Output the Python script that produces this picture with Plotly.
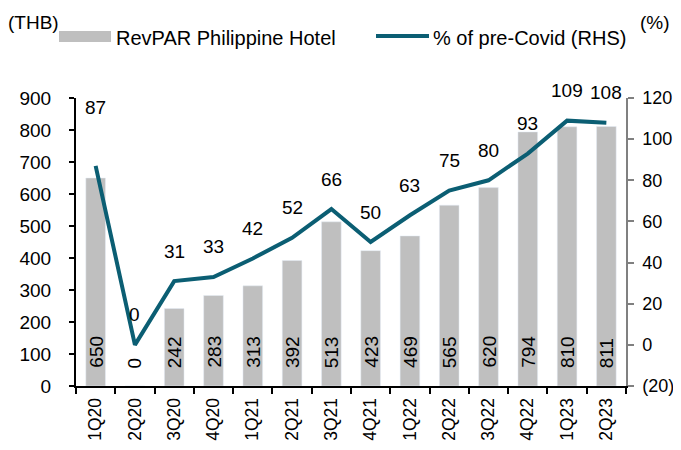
import plotly.graph_objects as go

categories = ["1Q20", "2Q20", "3Q20", "4Q20", "1Q21", "2Q21", "3Q21", "4Q21",
              "1Q22", "2Q22", "3Q22", "4Q22", "1Q23", "2Q23"]
revpar = [650, 0, 242, 283, 313, 392, 513, 423, 469, 565, 620, 794, 810, 811]
pct_pre_covid = [87, 0, 31, 33, 42, 52, 66, 50, 63, 75, 80, 93, 109, 108]
left_ticks = [0, 100, 200, 300, 400, 500, 600, 700, 800, 900]
right_ticks = [-20, 0, 20, 40, 60, 80, 100, 120]
right_tick_labels = ["(20)", "0", "20", "40", "60", "80", "100", "120"]

BAR = "#BFBFBF"
LINE = "#0B5E73"
FONT = "Liberation Sans, Arial, sans-serif"

# page body has a default 8px margin on every side; size the figure so the
# page does not overflow the 681x450 window
OFF = 8
W, H = 681 - 2 * OFF, 450 - 2 * OFF
PLOT_L, PLOT_R, PLOT_T, PLOT_B = 76, 626, 98, 386   # window pixels
ML, MR = PLOT_L - OFF, (OFF + W) - PLOT_R
MT, MB = PLOT_T - OFF, (OFF + H) - PLOT_B
PW, PH = W - ML - MR, H - MT - MB


def px(x):
    return (x - OFF - ML) / PW


def py(y):
    return (H - MB - (y - OFF)) / PH


fig = go.Figure()
fig.add_trace(go.Bar(x=categories, y=revpar, marker_color=BAR, width=0.5,
                     name="RevPAR Philippine Hotel", yaxis="y"))
fig.add_trace(go.Scatter(x=categories, y=pct_pre_covid, mode="lines",
                         line=dict(color=LINE, width=4),
                         name="% of pre-Covid (RHS)", yaxis="y2"))

annotations = []
for c, v in zip(categories, revpar):
    annotations.append(dict(x=c, y=0, xref="x", yref="y", text=str(v),
                            textangle=-90, showarrow=False, yanchor="bottom",
                            yshift=16, font=dict(family=FONT, size=19, color="#000")))
line_label_shift = [58] + [30] * (len(categories) - 1)
for c, v, s in zip(categories, pct_pre_covid, line_label_shift):
    annotations.append(dict(x=c, y=v, xref="x", yref="y2", text=str(v),
                            showarrow=False, yanchor="middle", yshift=s,
                            font=dict(family=FONT, size=19, color="#000")))
annotations.append(dict(x=px(6), y=py(22), xref="paper", yref="paper", text="(THB)",
                        showarrow=False, xanchor="left", yanchor="middle",
                        font=dict(family=FONT, size=19, color="#000")))
annotations.append(dict(x=px(672), y=py(22), xref="paper", yref="paper", text="(%)",
                        showarrow=False, xanchor="right", yanchor="middle",
                        font=dict(family=FONT, size=19, color="#000")))
annotations.append(dict(x=px(114), y=py(38), xref="paper", yref="paper",
                        text="RevPAR Philippine Hotel", showarrow=False,
                        xanchor="left", yanchor="middle",
                        font=dict(family=FONT, size=20, color="#000")))
annotations.append(dict(x=px(431), y=py(38), xref="paper", yref="paper",
                        text="% of pre-Covid (RHS)", showarrow=False,
                        xanchor="left", yanchor="middle",
                        font=dict(family=FONT, size=20, color="#000")))

shapes = [
    dict(type="rect", xref="paper", yref="paper", x0=px(59), x1=px(111),
         y0=py(42), y1=py(31), fillcolor=BAR, line=dict(width=0)),
    dict(type="line", xref="paper", yref="paper", x0=px(376), x1=px(429),
         y0=py(36), y1=py(36), line=dict(color=LINE, width=4)),
]

fig.update_layout(
    width=W, height=H,
    margin=dict(l=ML, r=MR, t=MT, b=MB, autoexpand=False),
    paper_bgcolor="white", plot_bgcolor="white",
    showlegend=False,
    font=dict(family=FONT, size=19, color="#000"),
    xaxis=dict(type="category", tickangle=-90, tickson="boundaries",
               ticks="outside", ticklen=6, tickwidth=1.5, tickcolor="#000",
               showline=True, linecolor="#000", linewidth=2,
               ticklabelstandoff=3, automargin=False,
               showgrid=False, tickfont=dict(family=FONT, size=17.5, color="#000")),
    yaxis=dict(range=[0, 900], tickvals=left_ticks, ticks="outside", ticklen=5,
               tickwidth=1.5, tickcolor="#000", showline=True, linecolor="#000",
               linewidth=2, showgrid=False, zeroline=False,
               ticklabelstandoff=14, automargin=False,
               tickfont=dict(family=FONT, size=19, color="#000")),
    yaxis2=dict(range=[-20, 120], overlaying="y", side="right",
                tickvals=right_ticks, ticktext=right_tick_labels,
                ticks="outside", ticklen=6, tickwidth=1.5, tickcolor="#808080",
                showline=True, linecolor="#808080", linewidth=1.5,
                showgrid=False, zeroline=False,
                ticklabelstandoff=5, automargin=False,
                tickfont=dict(family=FONT, size=18, color="#000")),
    annotations=annotations,
    shapes=shapes,
)

fig.write_html("out.html")
